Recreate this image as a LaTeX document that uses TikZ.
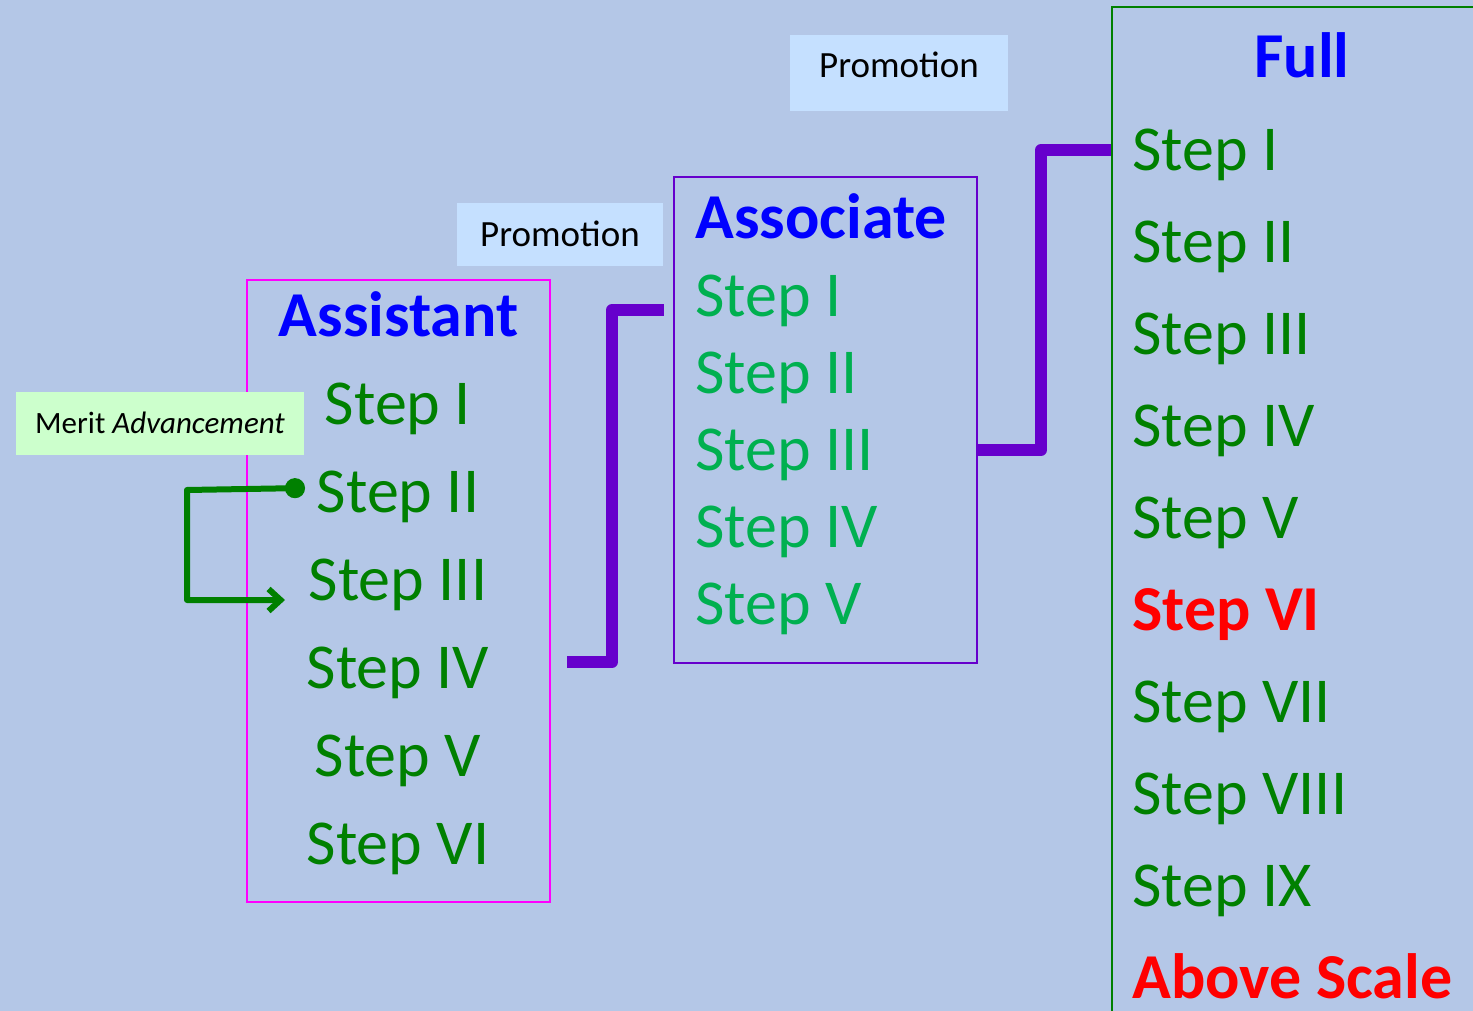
\documentclass[tikz,border=0pt]{standalone}
\usepackage{fontspec}
\setmainfont{Carlito}
\usetikzlibrary{positioning,arrows.meta}
\definecolor{bg}{HTML}{B4C7E7}
\definecolor{promo}{HTML}{C5E0FF}
\definecolor{meritfill}{HTML}{CCFFCC}
\definecolor{dkgreen}{HTML}{008000}
\definecolor{ltgreen}{HTML}{00B050}
\definecolor{purp}{HTML}{6600CC}
\definecolor{mag}{HTML}{FF00FF}

\begin{document}
\begin{tikzpicture}[x=0.5pt, y=-0.5pt,
  box/.style = {draw, line width=1pt, inner sep=0pt},
  rank/.style = {font=\fontsize{32}{38}\selectfont\bfseries, text=blue, inner sep=0pt, text height=20.6pt, text depth=0pt},
  stepc/.style = {font=\fontsize{32}{38}\selectfont, text=dkgreen, inner sep=0pt, text height=20.6pt, text depth=0pt},
  asstep/.style = {stepc, node distance=44pt},
  asocstep/.style = {stepc, text=ltgreen, anchor=west},
  fullstep/.style = {stepc, anchor=west},
  top/.style = {font=\fontsize{32}{38}\selectfont\bfseries, text=red},
  tag/.style = {inner sep=0pt, font=\fontsize{18.5}{22}\selectfont, text height=11.9pt, text depth=0pt},
  link/.style = {draw=purp, line width=6pt, line join=round},
  merit/.style = {draw=dkgreen, line width=3pt, line join=round, {Circle[length=10pt]}-{Straight Barb[length=6pt,width=11pt]}}]
  \useasboundingbox[fill=bg] (0,0) rectangle (1473,1011);
  \clip (0,0) rectangle (1473,1011);

  % assistant
  \node[box, draw=mag, minimum width=151.5pt, minimum height=311pt] (asst) at (398.5,591) {};
  \node[rank] (a0) at (398.5,316) {Assistant};
  \node[asstep] (a1) at (398,404) {Step I};
  \node[asstep, below of=a1] (a2) {Step II};
  \node[asstep, below of=a2] (a3) {Step III};
  \node[asstep, below of=a3] (a4) {Step IV};
  \node[asstep, below of=a4] (a5) {Step V};
  \node[asstep, below of=a5] (a6) {Step VI};

  % associate
  \node[box, draw=purp, minimum width=151.5pt, minimum height=243pt] (assoc) at (825.5,420) {};
  \node[rank, anchor=west] (b0) at (695,218) {Associate};
  \node[asocstep] (b1) at (695,296) {Step I};
  \node[asocstep, below=38.5pt of b1.west, anchor=west] (b2) {Step II};
  \node[asocstep, below=38.5pt of b2.west, anchor=west] (b3) {Step III};
  \node[asocstep, below=38.5pt of b3.west, anchor=west] (b4) {Step IV};
  \node[asocstep, below=38.5pt of b4.west, anchor=west] (b5) {Step V};

  % full
  \node[box, draw=dkgreen, minimum width=194pt, minimum height=511.5pt] (full) at (1306,518.5) {};
  \node[rank] (f0) at (1302,57) {Full};
  \node[fullstep] (f1) at (1132,150) {Step I};
  \node[fullstep, below=46pt of f1.west, anchor=west] (f2) {Step II};
  \node[fullstep, below=46pt of f2.west, anchor=west] (f3) {Step III};
  \node[fullstep, below=46pt of f3.west, anchor=west] (f4) {Step IV};
  \node[fullstep, below=46pt of f4.west, anchor=west] (f5) {Step V};
  \node[fullstep, top, below=46pt of f5.west, anchor=west] (f6) {Step VI};
  \node[fullstep, below=46pt of f6.west, anchor=west] (f7) {Step VII};
  \node[fullstep, below=46pt of f7.west, anchor=west] (f8) {Step VIII};
  \node[fullstep, below=46pt of f8.west, anchor=west] (f9) {Step IX};
  \node[fullstep, top, below=46pt of f9.west, anchor=west] (f10) {Above Scale};

  % labels
  \node[tag, fill=promo, minimum width=103pt, minimum height=31.5pt] (p1) at (560,234.5) {Promotion};
  \node[tag, fill=promo, minimum width=109pt, minimum height=38pt, text depth=7pt] (p2) at (899,73) {Promotion};
  \node[tag, fill=meritfill, font=\fontsize{15.5}{18}\selectfont, text height=10pt, minimum width=144pt, minimum height=31.5pt] (mer) at (160,423.5) {Merit \textit{Advancement}};

  % connectors
  \coordinate (l1) at (567,662);
  \coordinate (l2) at (664,310);
  \draw[link] (l1) -- ++(45,0) |- (l2);
  \draw[link] (assoc.east |- b3) -- ++(63,0) |- (full.west |- f1);
  \coordinate (m1) at (305,488);
  \coordinate (m2) at (285,600);
  \draw[merit] (m1) -- (187,490) |- (m2);
\end{tikzpicture}
\end{document}
